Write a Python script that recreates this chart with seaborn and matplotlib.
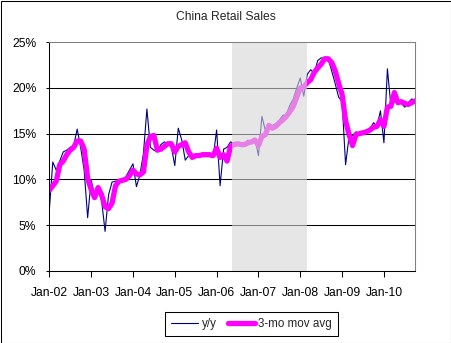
import matplotlib
matplotlib.use("Agg")
import matplotlib.pyplot as plt
from matplotlib.patches import Rectangle
import numpy as np
import pandas as pd
import seaborn as sns

# Monthly China retail sales growth, Jan-02 .. Oct-10 (percent)
yoy = [
    6.6, 11.9, 11.0, 12.0, 13.0, 13.2, 13.5, 13.7, 15.5, 13.5, 11.0, 5.8,    # 2002
    9.9, 8.3, 9.0, 7.7, 4.3, 8.3, 9.7, 9.8, 9.8, 10.0, 10.3, 11.0,           # 2003
    11.7, 9.2, 10.5, 12.8, 17.7, 13.5, 13.2, 13.0, 13.8, 14.1, 13.9, 13.6,   # 2004
    11.5, 15.6, 14.3, 12.1, 12.6, 12.6, 12.7, 12.6, 12.7, 12.8, 12.5, 12.4,  # 2005
    15.4, 9.3, 13.3, 13.5, 14.1, 13.9, 13.7, 13.8, 13.9, 14.3, 14.0, 14.5,   # 2006
    12.6, 16.9, 15.3, 15.5, 15.9, 16.1, 16.5, 17.0, 17.1, 18.1, 18.8, 20.0,  # 2007
    21.1, 19.1, 21.5, 22.0, 21.6, 23.0, 23.3, 23.2, 23.2, 21.9, 20.5, 19.0,  # 2008
    18.5, 11.6, 14.7, 14.8, 15.2, 15.0, 15.2, 15.4, 15.5, 16.2, 15.8, 17.5,  # 2009
    14.0, 22.1, 18.0, 18.5, 18.7, 18.3, 17.9, 18.4, 18.8, 18.6,              # 2010
]

ma3 = [
    8.8, 9.3, 9.8, 11.6, 12.0, 12.7, 13.2, 13.5, 14.2, 14.2, 13.3, 10.1,     # 2002
    8.9, 8.0, 9.1, 8.3, 7.0, 6.8, 7.4, 9.3, 9.8, 9.9, 10.0, 10.4,            # 2003
    11.0, 10.6, 10.5, 10.8, 13.7, 14.7, 14.8, 13.2, 13.3, 13.6, 13.9, 13.9,  # 2004
    13.0, 13.6, 13.8, 14.0, 13.0, 12.4, 12.6, 12.6, 12.7, 12.7, 12.7, 12.6,  # 2005
    13.4, 12.4, 12.7, 12.0, 13.6, 13.8, 13.9, 13.8, 13.8, 14.0, 14.1, 14.3,  # 2006
    13.7, 14.7, 14.9, 15.9, 15.6, 15.8, 16.2, 16.5, 16.9, 17.4, 18.0, 19.0,  # 2007
    20.0, 20.1, 20.6, 20.9, 21.7, 22.2, 22.6, 23.2, 23.2, 22.8, 21.9, 20.5,  # 2008
    19.3, 16.4, 14.9, 13.7, 14.9, 15.0, 15.1, 15.2, 15.4, 15.7, 15.8, 16.5,  # 2009
    15.8, 17.9, 18.0, 19.5, 18.4, 18.5, 18.3, 18.2, 18.4, 18.6,              # 2010
]

tick_labels = ["Jan-02", "Jan-03", "Jan-04", "Jan-05", "Jan-06",
               "Jan-07", "Jan-08", "Jan-09", "Jan-10"]
y_ticks = [0, 5, 10, 15, 20, 25]
y_tick_labels = ["0%", "5%", "10%", "15%", "20%", "25%"]

# highlighted period, in months since Jan-02
shade_start, shade_end = 52.4, 74.0

title = "China Retail Sales"
series_names = ["y/y", "3-mo mov avg"]

df = pd.DataFrame({"month": np.arange(len(yoy)), "yoy": yoy, "ma3": ma3})

sns.set_style("white")
plt.rcParams["font.family"] = ["Liberation Sans", "DejaVu Sans"]

fig = plt.figure(figsize=(4.51, 3.43), dpi=100)
ax = fig.add_axes([49.3 / 451, (343 - 270.7) / 343,
                   (415.3 - 49.3) / 451, (270.7 - 42.3) / 343])

for v in y_ticks[1:-1]:
    ax.axhline(v, color="black", lw=0.75, zorder=1)

sns.lineplot(data=df, x="month", y="yoy", ax=ax, color="#000080",
             lw=0.8, label=series_names[0], estimator=None, zorder=3)
sns.lineplot(data=df, x="month", y="ma3", ax=ax, color="#FF00FF",
             lw=3.8, label=series_names[1], estimator=None, zorder=4,
             solid_joinstyle="round", solid_capstyle="round")

ax.axvspan(shade_start, shade_end, color="#d6d6d6", alpha=0.6,
           lw=0, zorder=5)

ax.set_xlim(0, len(yoy) - 1)
ax.set_ylim(y_ticks[0], y_ticks[-1])
ax.set_xticks(np.arange(len(tick_labels)) * 12)
ax.set_xticklabels(tick_labels)
ax.set_yticks(y_ticks)
ax.set_yticklabels(y_tick_labels)
ax.set_xlabel("")
ax.set_ylabel("")

ax.tick_params(axis="x", direction="out", length=4.3, width=0.75,
               pad=7.5, labelsize=8.7, color="black", labelcolor="black")
ax.tick_params(axis="y", direction="out", length=2.4, width=0.75,
               pad=7, labelsize=8.7, color="black", labelcolor="black")
ax.tick_params(bottom=True, left=True)

for side in ["left", "bottom"]:
    ax.spines[side].set_color("black")
    ax.spines[side].set_linewidth(0.75)
    ax.spines[side].set_zorder(6)
for side in ["top", "right"]:
    ax.spines[side].set_color("#808080")
    ax.spines[side].set_linewidth(0.75)
    ax.spines[side].set_zorder(6)

fig.text(0.5, 1 - 17 / 343, title, ha="center", va="center", fontsize=8.7)

leg = ax.legend(loc="center", bbox_to_anchor=(251.7 / 451, 1 - 324 / 343),
                bbox_transform=fig.transFigure, ncol=2, frameon=True,
                fancybox=False, edgecolor="black", framealpha=1,
                handlelength=2.3, handletextpad=0.3, columnspacing=1.0,
                borderpad=0.5, fontsize=8.4)
leg.get_frame().set_linewidth(0.75)

fig.add_artist(Rectangle((0.5 / 451, 0.5 / 343), 1 - 1 / 451, 1 - 1 / 343,
                         transform=fig.transFigure, fill=False,
                         edgecolor="black", lw=0.75))

fig.savefig("out.png", dpi=100)
